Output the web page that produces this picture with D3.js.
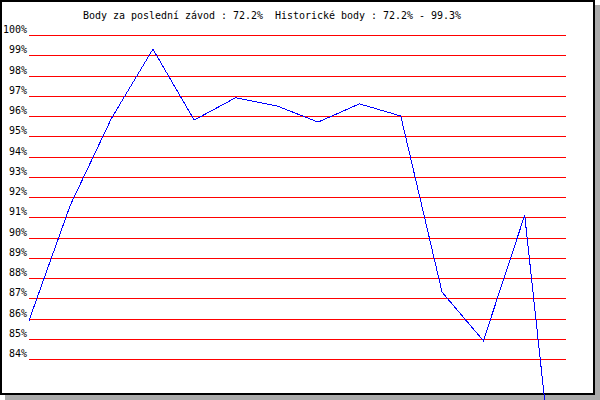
<!DOCTYPE html>
<html>
<head>
<meta charset="utf-8">
<script src="https://cdn.jsdelivr.net/npm/d3@7"></script>
<style>
  body { margin: 0; background: #fff; }
  svg { display: block; }
</style>
</head>
<body>
<svg id="chart"></svg>
<script>
// Race results (percent points), one per race
var races = [1, 2, 3, 4, 5, 6, 7, 8, 9, 10, 11, 12, 13, 14];
var points = [85.9, 91.6, 95.9, 99.3, 95.8, 96.9, 96.5, 95.7, 96.6, 96.0, 87.3, 84.9, 91.1, 72.2];

// Y tick labels
var yTicks = [100, 99, 98, 97, 96, 95, 94, 93, 92, 91, 90, 89, 88, 87, 86, 85, 84];

var titleText = "Body za poslední závod : 72.2%  Historické body : 72.2% - 99.3%";

var width = 600, height = 400;

var svg = d3.select("#chart")
  .attr("width", width)
  .attr("height", height);

// Shadow and frame
svg.append("rect")
  .attr("x", 5).attr("y", 5)
  .attr("width", 595).attr("height", 395)
  .attr("fill", "#aaaaaa");

svg.append("rect")
  .attr("x", 1).attr("y", 1)
  .attr("width", 593).attr("height", 393)
  .attr("fill", "#ffffff")
  .attr("stroke", "#000000")
  .attr("stroke-width", 2);

// Scales
var x = d3.scalePoint()
  .domain(races)
  .range([29, 566]);

var y = d3.scaleLinear()
  .domain([84, 100])
  .range([359, 35]);

// Red grid lines
svg.append("g")
  .selectAll("line")
  .data(yTicks)
  .enter()
  .append("line")
    .attr("x1", 29)
    .attr("x2", 566)
    .attr("y1", function(d) { return Math.round(y(d)) + 0.5; })
    .attr("y2", function(d) { return Math.round(y(d)) + 0.5; })
    .attr("stroke", "#ff0000")
    .attr("stroke-width", 1)
    .attr("shape-rendering", "crispEdges");

// Y labels (6px per character, like the bitmap font)
svg.append("g")
  .selectAll("text")
  .data(yTicks)
  .enter()
  .append("text")
    .attr("x", 27)
    .attr("y", function(d) { return Math.round(y(d)) - 2; })
    .attr("text-anchor", "end")
    .attr("font-family", "DejaVu Sans Mono, monospace")
    .attr("font-size", 11)
    .attr("textLength", function(d) { return (d + "%").length * 6; })
    .attr("lengthAdjust", "spacingAndGlyphs")
    .attr("fill", "#000")
    .text(function(d) { return d + "%"; });

// Title
svg.append("text")
  .attr("x", 83)
  .attr("y", 19)
  .attr("font-family", "DejaVu Sans Mono, monospace")
  .attr("font-size", 11)
  .attr("textLength", titleText.length * 6)
  .attr("lengthAdjust", "spacingAndGlyphs")
  .attr("fill", "#000")
  .attr("xml:space", "preserve")
  .style("white-space", "pre")
  .text(titleText);

// Data line
var line = d3.line()
  .x(function(d, i) { return x(races[i]); })
  .y(function(d) { return y(d); });

svg.append("path")
  .datum(points)
  .attr("d", line)
  .attr("fill", "none")
  .attr("stroke", "#0000ff")
  .attr("stroke-width", 1)
  .attr("shape-rendering", "crispEdges");
</script>
</body>
</html>
